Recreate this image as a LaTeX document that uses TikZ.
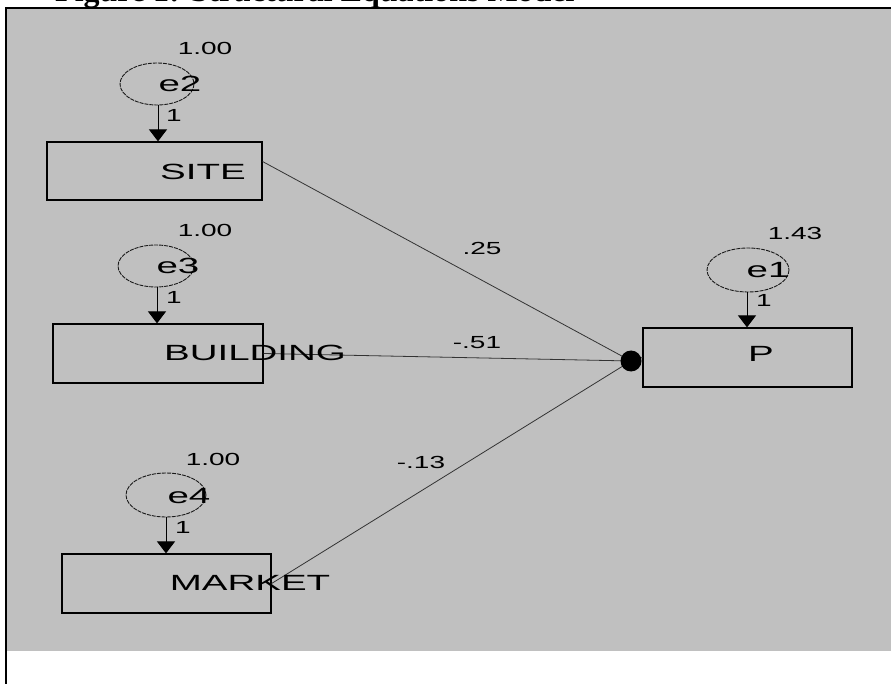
\documentclass[tikz,border=0pt]{standalone}
\usepackage{fontspec}
\usepackage{graphicx}
\setmainfont{Liberation Sans}
\newfontfamily\titlefont{Liberation Serif}
\usetikzlibrary{arrows.meta,calc}
\definecolor{panel}{HTML}{C0C0C0}
\newcommand{\bigtxt}[1]{\scalebox{1.75}[1]{\fontsize{22}{22}\selectfont #1}}
\newcommand{\smalltxt}[1]{\scalebox{1.6}[1]{\fontsize{17.5}{17.5}\selectfont #1}}
\tikzset{
  varbox/.style={draw=black, line width=1.2pt, rectangle, inner sep=0pt},
  errell/.style={draw=black!90, line width=0.9pt, dash pattern=on 4pt off 1pt},
  txt/.style={inner sep=0pt, text=black},
  path/.style={draw=black!80, line width=0.8pt},
  arr/.style={draw=black, line width=1pt, -{Triangle[width=18pt,length=12pt]}},
  hubdot/.style={fill=black, circle, minimum size=21pt, inner sep=0pt},
}
\begin{document}
\begin{tikzpicture}[x=1pt,y=-1pt]
\useasboundingbox (0,0) rectangle (891,684);
\clip (0,0) rectangle (891,684);
% frame and panel
\fill[panel] (6.7,9) rectangle (891,651);
\fill[black] (4.7,6.7) rectangle (891,9);
\fill[black] (4.7,6.7) rectangle (6.7,684);
% caption, cut off at the top edge as in the reference
\node[txt, anchor=base west] (title) at (55,1.5) {\fontsize{32}{32}\selectfont\titlefont\bfseries Figure 1: Structural Equations Model};
% boxes
\node[varbox, minimum width=215pt, minimum height=58pt] (site) at (154.5,171) {};
\node[varbox, minimum width=210pt, minimum height=59pt] (building) at (158,353.5) {};
\node[varbox, minimum width=209pt, minimum height=59pt] (market) at (166.5,583.5) {};
\node[varbox, minimum width=209pt, minimum height=59pt] (p) at (747.5,357.5) {};
% error ellipses
\draw[errell] (157,84) ellipse [x radius=37, y radius=21];
\coordinate (e2) at (157,84);
\draw[errell] (156,266) ellipse [x radius=38, y radius=21];
\coordinate (e3) at (156,266);
\draw[errell] (166,495) ellipse [x radius=40, y radius=22];
\coordinate (e4) at (166,495);
\draw[errell] (748,270) ellipse [x radius=41, y radius=22];
\coordinate (e1) at (748,270);
% arrows from errors
\coordinate (e2s) at (158,105);
\coordinate (e3s) at (157,287);
\coordinate (e4s) at (166,517);
\coordinate (e1s) at (747,292);
\draw[arr] (e2s) -- (e2s |- site.north);
\draw[arr] (e3s) -- (e3s |- building.north);
\draw[arr] (e4s) -- (e4s |- market.north);
\draw[arr] (e1s) -- (e1s |- p.north);
% paths to P
\coordinate (hub) at (631,361);
\coordinate (sitestart) at ($(site.north east)!0.34!(site.south east)$);
\draw[path] (sitestart) -- (hub);
\draw[path] (building.east) -- (hub);
\draw[path] (market.east) -- (hub);
\draw[path] (hub) -- (p.west);
\node[hubdot] (hubdot) at (hub) {};
% labels
\node[txt] (lsite) at (203,172) {\bigtxt{SITE}};
\node[txt] (lbuilding) at (255,353) {\bigtxt{BUILDING}};
\node[txt] (lmarket) at (250,583) {\bigtxt{MARKET}};
\node[txt] (lp) at (761,354) {\bigtxt{P}};
\node[txt] (le2) at (180,84) {\bigtxt{e2}};
\node[txt] (le3) at (178,266) {\bigtxt{e3}};
\node[txt] (le4) at (189,496) {\bigtxt{e4}};
\node[txt] (le1) at (768,270) {\bigtxt{e1}};
\node[txt] (v2) at (205,48) {\smalltxt{1.00}};
\node[txt] (v3) at (205,230) {\smalltxt{1.00}};
\node[txt] (v4) at (213,459) {\smalltxt{1.00}};
\node[txt] (v1) at (795,233) {\smalltxt{1.43}};
\node[txt] (w2) at (174,115) {\smalltxt{1}};
\node[txt] (w3) at (174,297) {\smalltxt{1}};
\node[txt] (w4) at (183,527) {\smalltxt{1}};
\node[txt] (w1) at (764,300) {\smalltxt{1}};
\node[txt] (c1) at (482,248) {\smalltxt{.25}};
\node[txt] (c2) at (477,343) {\smalltxt{-.51}};
\node[txt] (c3) at (421,462) {\smalltxt{-.13}};
\end{tikzpicture}
\end{document}
